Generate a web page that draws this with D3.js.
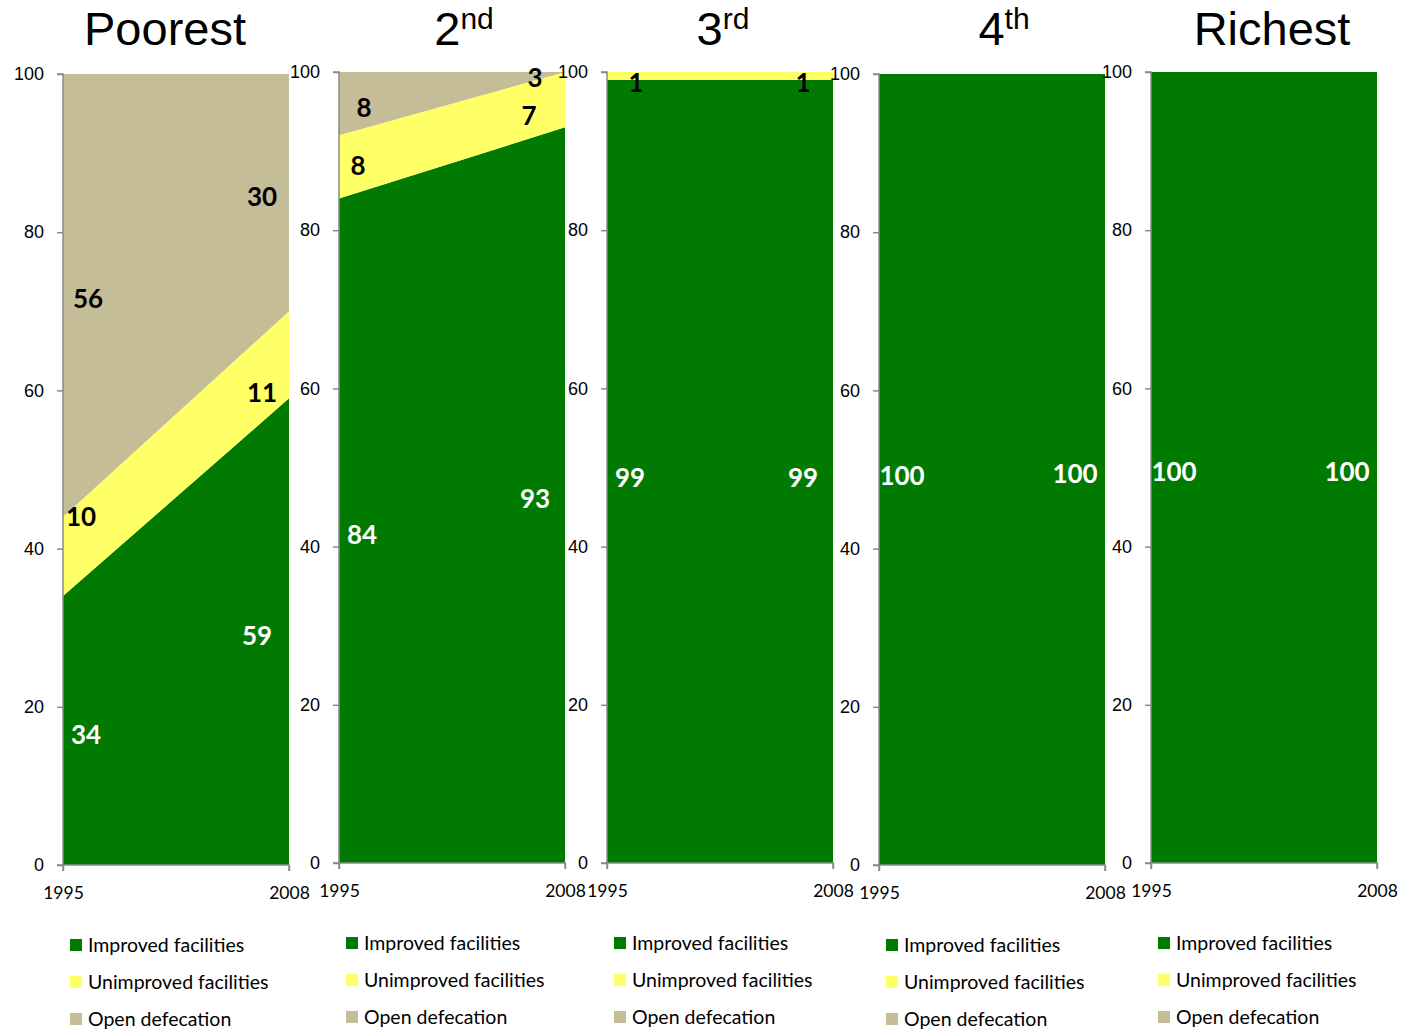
<!DOCTYPE html>
<html>
<head>
<meta charset="utf-8">
<script src="https://cdn.jsdelivr.net/npm/d3@7/dist/d3.min.js"></script>
<style>
  html, body { margin: 0; padding: 0; background: #fff; }
  svg { display: block; }
</style>
</head>
<body>
<svg id="chart" width="1403" height="1029"></svg>
<script>
// Sanitation by wealth quintile, share of population (%), 1995 vs 2008
const years = [1995, 2008];
const quintiles = ["Poorest", "2nd", "3rd", "4th", "Richest"];
const titleMain = ["Poorest", "2", "3", "4", "Richest"];
const titleSup = ["", "nd", "rd", "th", ""];
const seriesNames = ["Improved facilities", "Unimproved facilities", "Open defecation"];

// values per quintile: [1995, 2008]
const improved   = [[34, 59], [84, 93], [99, 99], [100, 100], [100, 100]];
const unimproved = [[10, 11], [8, 7],   [1, 1],   [0, 0],     [0, 0]];
const openDef    = [[56, 30], [8, 3],   [0, 0],   [0, 0],     [0, 0]];

const yTicks = [0, 20, 40, 60, 80, 100];

const colors = ["#007a00", "#ffff66", "#c4bd97"];
const labelColors = ["#ffffff", "#000000", "#000000"];

// panel geometry
const panelLeft = [63, 339, 607, 879, 1151];
const panelTop = [74, 72, 72, 74, 72];
const panelW = 226, panelH = 791;
const titleX = [165, 464, 723, 1004, 1272];

// label nudges [panel, series, yearIndex, dx, dy]
const labelNudge = [
  [0, 1, 0, -5, -44], [0, 1, 1, 3, 34], [0, 2, 0, 2, 0], [0, 2, 1, 3, 0], [0, 0, 1, -2, 0],
  [1, 1, 0, -4, -5], [1, 2, 0, 2, 0], [1, 1, 1, -6, 12], [1, 2, 1, 0, 14],
  [2, 1, 0, 6, 3], [2, 1, 1, 0, 3],
  [2, 0, 0, 0, 3], [2, 0, 1, 0, 3], [3, 0, 0, 0, 2]
];

const svg = d3.select("#chart");

quintiles.forEach((q, p) => {
  const left = panelLeft[p], top = panelTop[p];
  const right = left + panelW, bottom = top + panelH;
  const x = d3.scaleLinear().domain([years[0], years[1]]).range([left, right]);
  const y = d3.scaleLinear().domain([0, 100]).range([bottom, top]);

  const rows = years.map((yr, i) => ({
    year: yr,
    s0: improved[p][i], s1: unimproved[p][i], s2: openDef[p][i]
  }));
  const stacked = d3.stack().keys(["s0", "s1", "s2"])(rows);

  const g = svg.append("g");
  const clipId = "clip" + p;
  g.append("clipPath").attr("id", clipId)
    .append("rect").attr("x", left).attr("y", top).attr("width", panelW).attr("height", panelH);

  const area = d3.area()
    .x(d => x(d.data.year))
    .y0(d => y(d[0]))
    .y1(d => y(d[1]));

  g.append("g").attr("clip-path", `url(#${clipId})`)
    .selectAll("path").data(stacked).join("path")
    .attr("d", area)
    .attr("fill", (d, i) => colors[i]);

  // axes
  const yAxis = d3.axisLeft(y).tickValues(yTicks).tickSize(6).tickPadding(13).tickFormat(d3.format("d"));
  const ya = g.append("g").attr("transform", `translate(${left},0)`).call(yAxis);
  ya.selectAll("text").attr("font-family", "'Liberation Sans', Arial, sans-serif")
    .attr("font-size", 18).attr("fill", "#000");

  const xAxis = d3.axisBottom(x).tickValues(years).tickSize(6).tickPadding(16).tickFormat(d3.format("d"));
  const xa = g.append("g").attr("transform", `translate(0,${bottom})`).call(xAxis);
  xa.selectAll("text").attr("font-family", "Lato, 'Open Sans', sans-serif")
    .attr("font-size", 17.5).attr("fill", "#000");

  [ya, xa].forEach(a => {
    a.select(".domain").attr("stroke", "#8a8a8a").attr("stroke-width", 1.5);
    a.selectAll(".tick line").attr("stroke", "#8a8a8a").attr("stroke-width", 1.5);
  });
  ya.select(".domain").attr("d", `M-6,${top}H0V${bottom}H-6`);
  xa.select(".domain").attr("d", `M${left},6V0H${right}V6`);

  // data labels
  const seriesVals = [improved[p], unimproved[p], openDef[p]];
  stacked.forEach((layer, s) => {
    layer.forEach((pt, i) => {
      const v = seriesVals[s][i];
      if (v === 0) return;
      let cx = i === 0 ? left + 23 : right - 30;
      let cy = y((pt[0] + pt[1]) / 2);
      const n = labelNudge.find(a => a[0] === p && a[1] === s && a[2] === i);
      if (n) { cx += n[3]; cy += n[4]; }
      g.append("text")
        .attr("x", cx).attr("y", cy + 13)
        .attr("text-anchor", "middle")
        .attr("font-family", "Lato, 'Open Sans', sans-serif")
        .attr("font-weight", 700)
        .attr("font-size", 26)
        .attr("fill", labelColors[s])
        .text(v);
    });
  });

  // title
  const t = g.append("text")
    .attr("x", titleX[p]).attr("y", 45)
    .attr("text-anchor", "middle")
    .attr("font-family", "'Liberation Sans', Arial, sans-serif")
    .attr("font-size", 47).attr("fill", "#000");
  t.append("tspan").text(titleMain[p]);
  if (titleSup[p]) {
    t.append("tspan").attr("dy", -16).attr("font-size", 30).text(titleSup[p]);
  }

  // legend
  seriesNames.forEach((name, s) => {
    const ly = top + 871 + s * 37;
    g.append("rect").attr("x", left + 7).attr("y", ly - 6).attr("width", 12).attr("height", 12)
      .attr("fill", colors[s]);
    g.append("text").attr("x", left + 25).attr("y", ly + 7)
      .attr("font-family", "Lato, 'Open Sans', sans-serif")
      .attr("font-size", 19.5).attr("fill", "#000")
      .text(name);
  });
});
</script>
</body>
</html>
